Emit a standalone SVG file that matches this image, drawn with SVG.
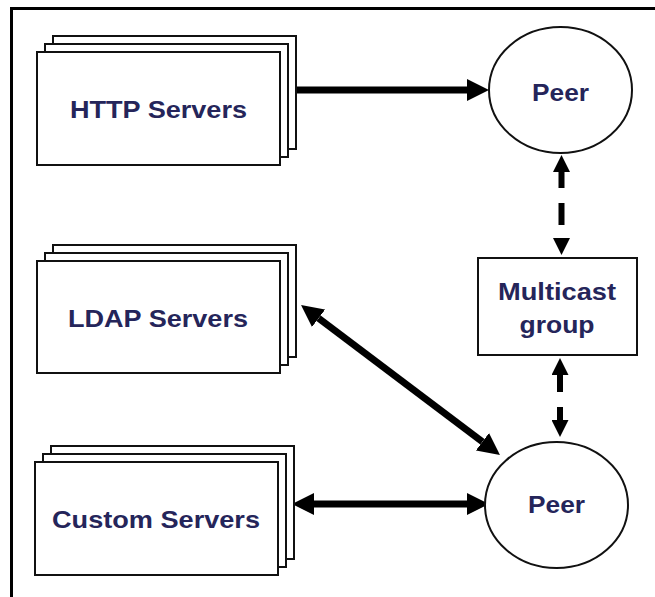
<svg xmlns="http://www.w3.org/2000/svg" width="655" height="597" viewBox="0 0 655 597">
  <style>
    .card { fill: #ffffff; stroke: #111111; stroke-width: 2; }
    .peer { fill: #ffffff; stroke: #111111; stroke-width: 2; }
    .label { font-family: "Liberation Sans", Arial, sans-serif; font-weight: bold; font-size: 24px; fill: #25255a; text-anchor: middle; }
    .link { fill: none; stroke: #000000; stroke-width: 7; }
    .dash { fill: none; stroke: #000000; stroke-width: 6; }
    .frame { fill: none; stroke: #000000; stroke-width: 3; }
  </style>
  <defs>
    <marker id="head" markerUnits="userSpaceOnUse" markerWidth="22" markerHeight="22" refX="0" refY="11" orient="auto-start-reverse" viewBox="0 0 22 22">
      <path d="M0,0 L22,11 L0,22 Z" fill="#000000"/>
    </marker>
    <marker id="headSmall" markerUnits="userSpaceOnUse" markerWidth="17" markerHeight="17" refX="0" refY="8.5" orient="auto-start-reverse" viewBox="0 0 17 17">
      <path d="M0,0 L17,8.5 L0,17 Z" fill="#000000"/>
    </marker>
  </defs>

  <!-- outer frame (top and left edges) -->
  <path class="frame" d="M11.5,597 V8.5 H655"/>

  <g id="connectors">
    <!-- HTTP servers to upper peer -->
    <path class="link" d="M293,90 H467" marker-end="url(#head)"/>
    <!-- LDAP servers to lower peer -->
    <path class="link" d="M318.6,318.2 L482.4,441.8" marker-start="url(#head)" marker-end="url(#head)"/>
    <!-- Custom servers to lower peer -->
    <path class="link" d="M314,504 H467" marker-start="url(#head)" marker-end="url(#head)"/>
    <!-- upper peer to multicast group -->
    <path class="dash" d="M561.5,172 V238" stroke-dasharray="16 15 22 13" marker-start="url(#headSmall)" marker-end="url(#headSmall)"/>
    <!-- multicast group to lower peer -->
    <path class="dash" d="M560,375 V420" stroke-dasharray="17 15 13" marker-start="url(#headSmall)" marker-end="url(#headSmall)"/>
  </g>

  <g id="http-servers">
    <rect class="card" x="53" y="36" width="243" height="113"/>
    <rect class="card" x="45" y="44" width="243" height="113"/>
    <rect class="card" x="37" y="52" width="243" height="113"/>
    <text class="label" x="158.5" y="118" textLength="177" lengthAdjust="spacingAndGlyphs">HTTP Servers</text>
  </g>

  <g id="ldap-servers">
    <rect class="card" x="53" y="245" width="243" height="112"/>
    <rect class="card" x="45" y="253" width="243" height="112"/>
    <rect class="card" x="37" y="261" width="243" height="112"/>
    <text class="label" x="158" y="327" textLength="180" lengthAdjust="spacingAndGlyphs">LDAP Servers</text>
  </g>

  <g id="custom-servers">
    <rect class="card" x="51" y="446" width="243" height="113"/>
    <rect class="card" x="43" y="454" width="243" height="113"/>
    <rect class="card" x="35" y="462" width="243" height="113"/>
    <text class="label" x="156" y="528" textLength="208" lengthAdjust="spacingAndGlyphs">Custom Servers</text>
  </g>

  <g id="peer-upper">
    <ellipse class="peer" cx="560.5" cy="90" rx="71.5" ry="63"/>
    <text class="label" x="560.5" y="101" textLength="57" lengthAdjust="spacingAndGlyphs">Peer</text>
  </g>

  <g id="multicast-group">
    <rect class="card" x="478" y="258" width="159" height="97"/>
    <text class="label" x="557" y="300" textLength="118" lengthAdjust="spacingAndGlyphs">Multicast</text>
    <text class="label" x="557" y="333" textLength="75" lengthAdjust="spacingAndGlyphs">group</text>
  </g>

  <g id="peer-lower">
    <ellipse class="peer" cx="556.5" cy="505" rx="71.5" ry="63"/>
    <text class="label" x="556.5" y="513" textLength="57" lengthAdjust="spacingAndGlyphs">Peer</text>
  </g>
</svg>
